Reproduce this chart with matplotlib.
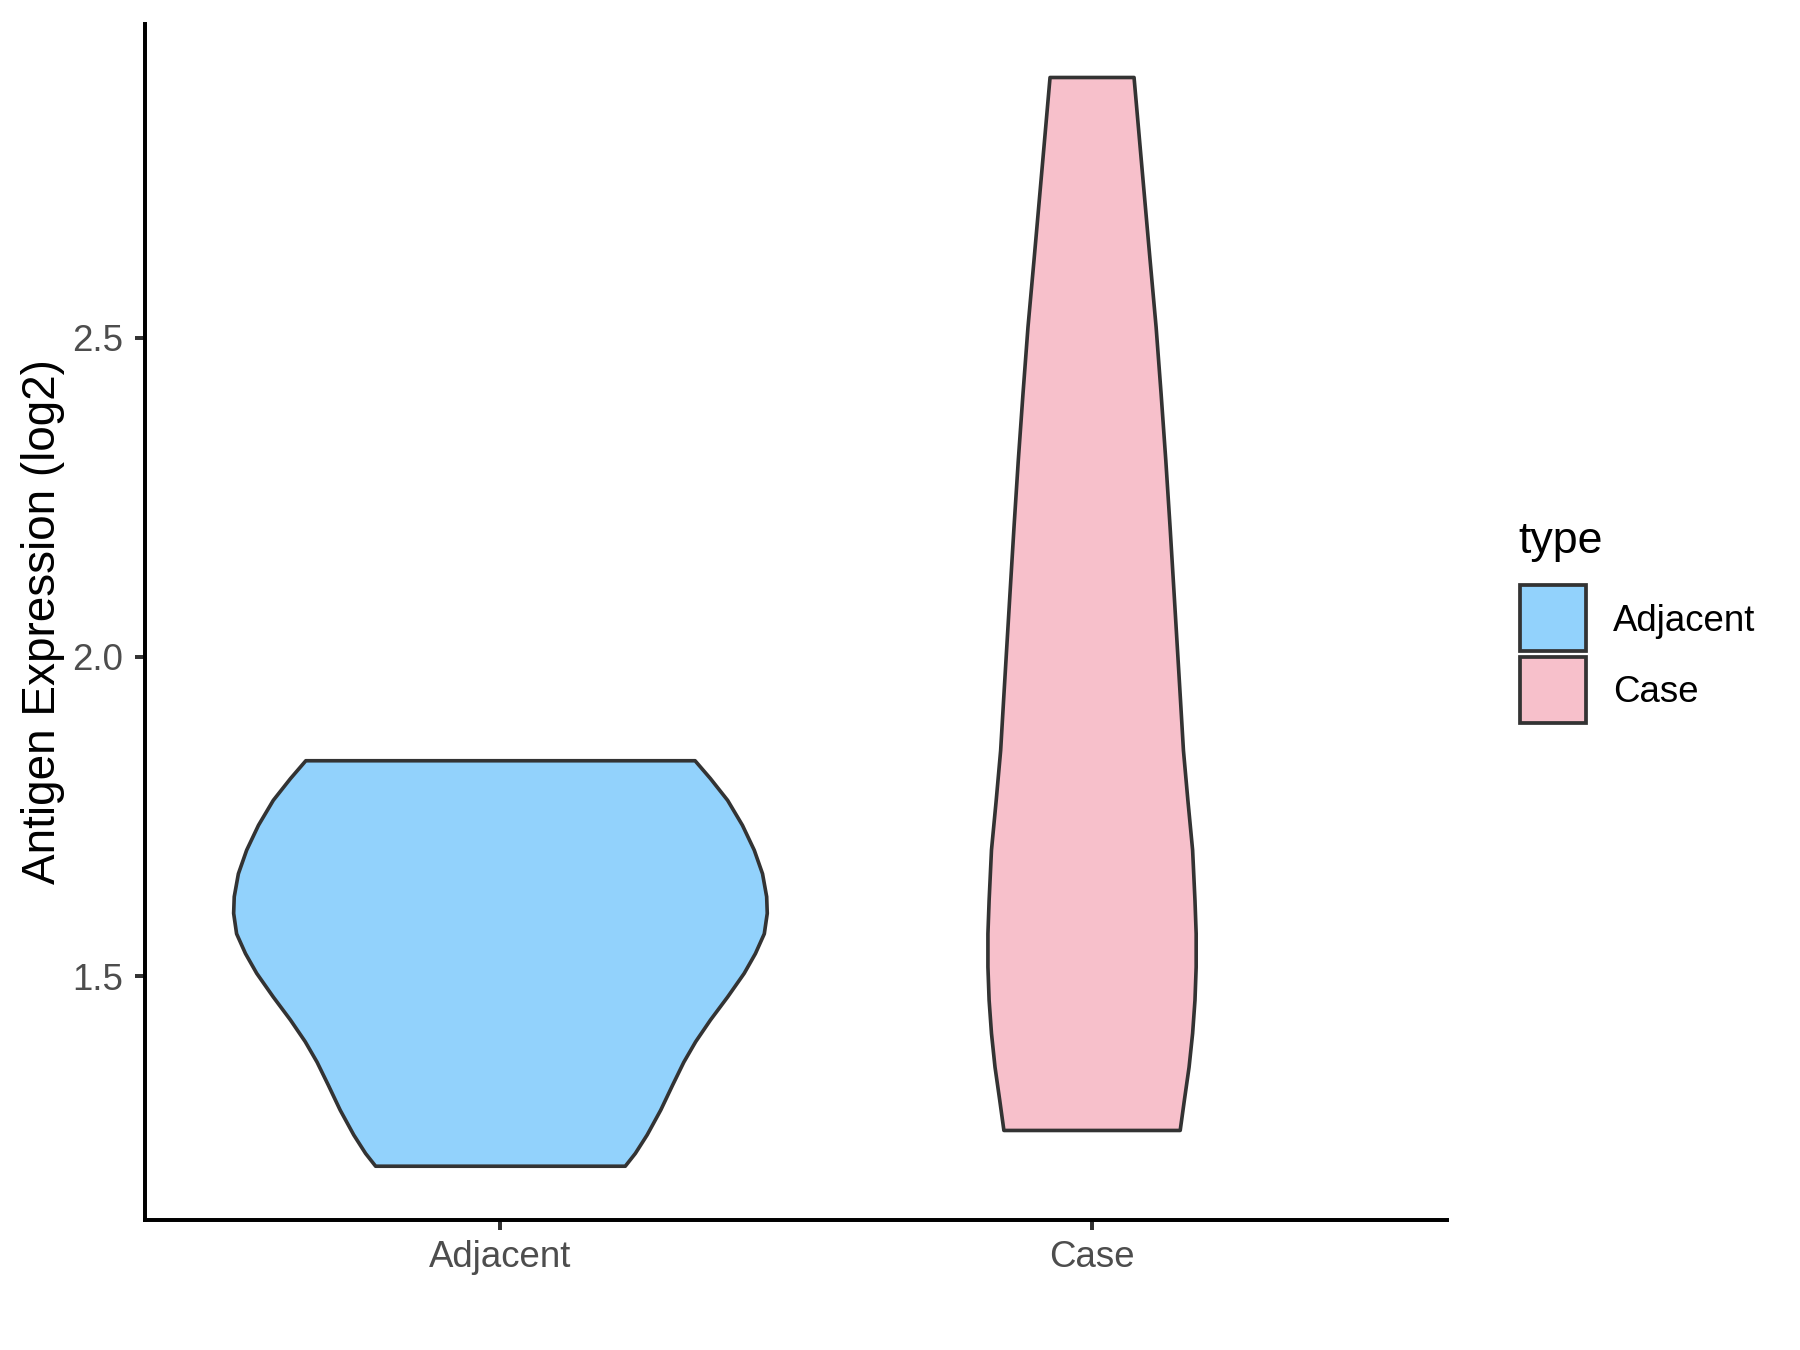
import matplotlib

matplotlib.use("Agg")
import matplotlib.pyplot as plt
from matplotlib.patches import Rectangle

plt.rcParams["font.family"] = ["Liberation Sans", "DejaVu Sans"]

# categories and colours
categories = ["Adjacent", "Case"]
fill_colors = ["#92D2FC", "#F7C0CB"]
y_ticks = [1.5, 2.0, 2.5]

# violin outlines: expression level and half width
adjacent_y = [1.203, 1.223, 1.252, 1.291, 1.330, 1.366, 1.398, 1.432, 1.468, 1.505,
              1.536, 1.567, 1.599, 1.625, 1.661, 1.698, 1.737, 1.776, 1.810, 1.838]
adjacent_hw = [0.211, 0.228, 0.248, 0.271, 0.291, 0.310, 0.330, 0.355, 0.384, 0.412,
               0.431, 0.446, 0.451, 0.450, 0.443, 0.429, 0.409, 0.384, 0.355, 0.329]

case_y = [1.259, 1.306, 1.358, 1.411, 1.463, 1.515, 1.567, 1.619, 1.698, 1.776,
          1.854, 1.933, 1.995, 2.100, 2.204, 2.308, 2.413, 2.517, 2.622, 2.665,
          2.800, 2.908]
case_hw = [0.149, 0.156, 0.164, 0.170, 0.174, 0.176, 0.176, 0.174, 0.170, 0.162,
           0.1545, 0.1495, 0.1455, 0.1387, 0.1319, 0.1247, 0.1167, 0.1083, 0.0981, 0.094,
           0.0812, 0.071]

profiles = [(adjacent_y, adjacent_hw), (case_y, case_hw)]

W, H = 1800, 1350
fig = plt.figure(figsize=(12, 9), dpi=150)
ax = fig.add_axes([145 / W, 1 - 1220 / H, (1446.5 - 145) / W, (1220 - 24) / H])

for pos, (ys, hws), color in zip([1, 2], profiles, fill_colors):
    left = [pos - h for h in hws]
    right = [pos + h for h in hws]
    ax.fill_betweenx(ys, left, right, facecolor=color, edgecolor="#333333",
                     linewidth=1.75, joinstyle="round")

ax.set_xlim(0.4, 2.6)
ax.set_ylim(1.118, 2.991)
ax.set_xticks([1, 2])
ax.set_xticklabels(categories)
ax.set_yticks(y_ticks)
ax.set_yticklabels([f"{t:.1f}" for t in y_ticks])

for side in ["top", "right"]:
    ax.spines[side].set_visible(False)
for side in ["left", "bottom"]:
    ax.spines[side].set_linewidth(1.9)
    ax.spines[side].set_color("black")

ax.tick_params(axis="both", length=4.8, width=1.9, color="#333333",
               labelsize=17.6, labelcolor="#4D4D4D")
ax.tick_params(axis="y", pad=5.8)
ax.tick_params(axis="x", pad=5.0)

ax.set_ylabel("Antigen Expression (log2)", fontsize=22, color="black", va="center")
ax.yaxis.set_label_coords(-0.078, 0.5)

# legend drawn by hand to match the ggplot layout
fig.text(1518 / W, 1 - 553.3 / H, "type", fontsize=21.5, ha="left", va="baseline")
key_tops = [585, 657]
text_baselines = [630.7, 701.7]
for name, color, top, base in zip(categories, fill_colors, key_tops, text_baselines):
    fig.add_artist(Rectangle((1520 / W, 1 - (top + 65.5) / H), 65.5 / W, 65.5 / H,
                             transform=fig.transFigure, facecolor=color,
                             edgecolor="#333333", linewidth=1.8))
    fig.text(1612.7 / W, 1 - base / H, name, fontsize=17.6, ha="left", va="baseline")

fig.savefig("out.png", dpi=150)
plt.close(fig)
